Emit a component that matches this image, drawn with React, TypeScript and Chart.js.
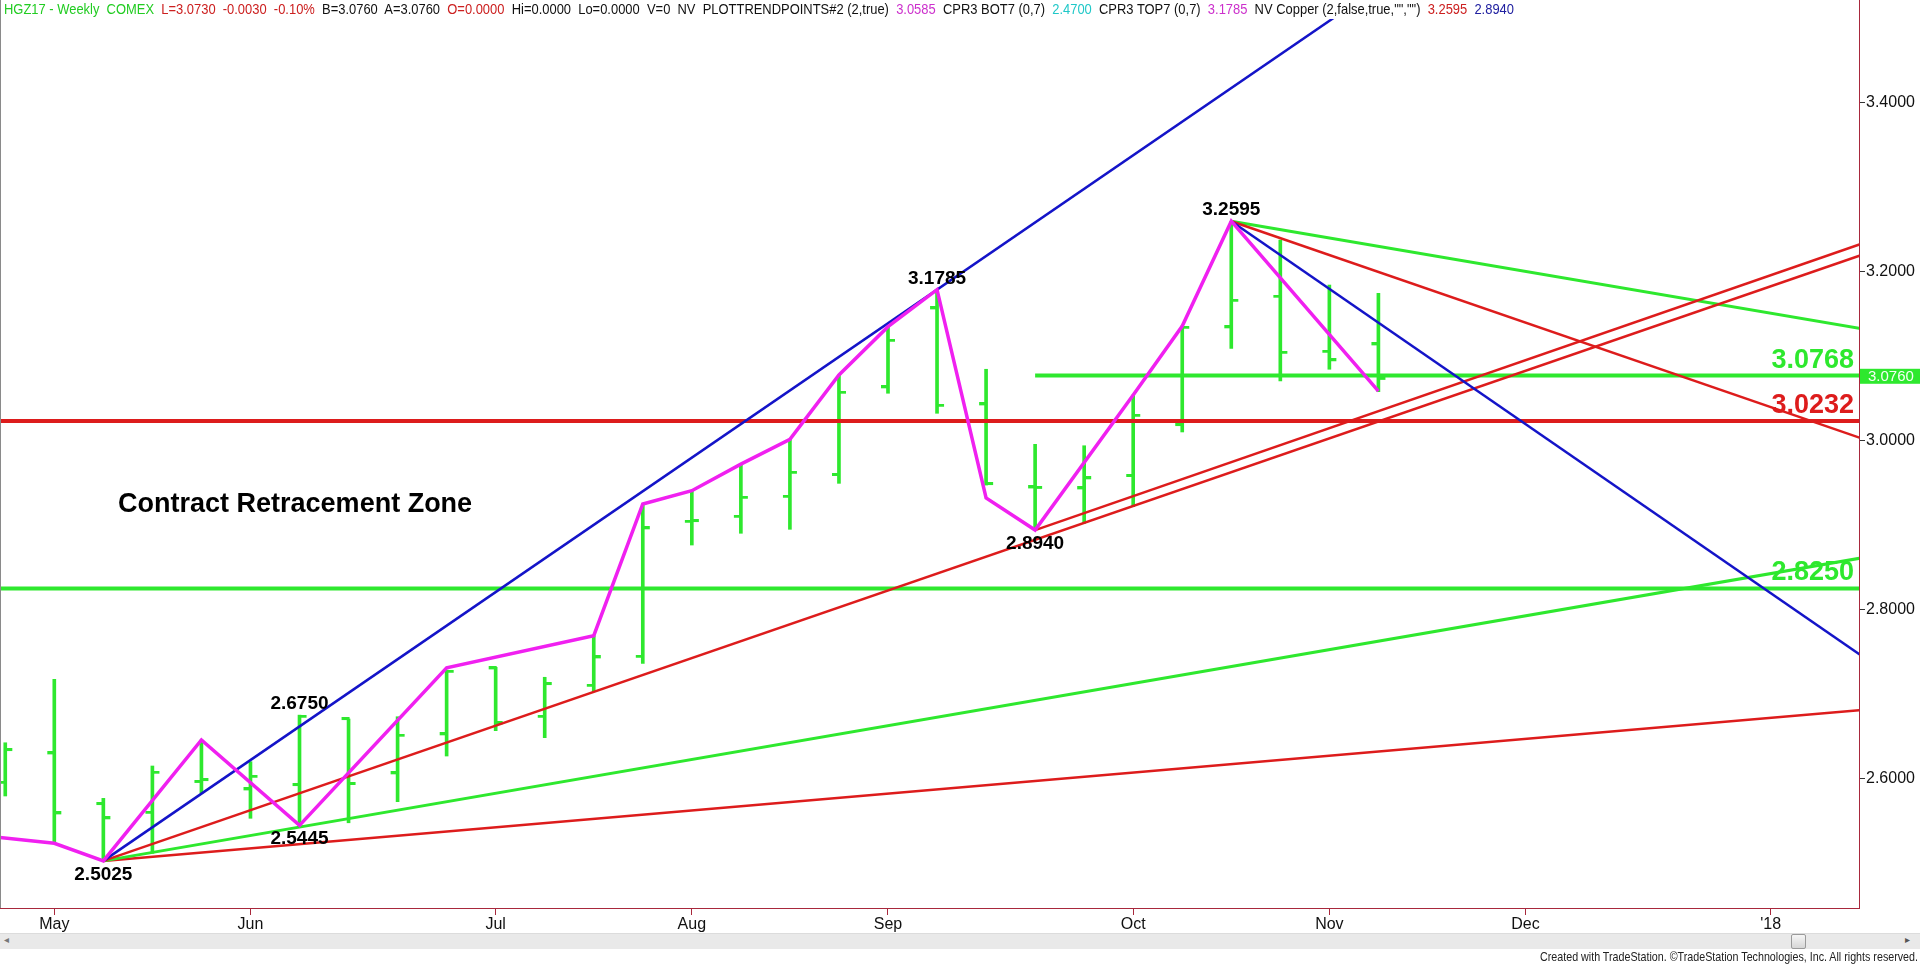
import React, { useEffect, useLayoutEffect, useRef } from 'react';
import { Chart, registerables } from 'chart.js';

Chart.register(...registerables);

const FONT = '"Liberation Sans", Arial, Helvetica, sans-serif';

// ---------- data ----------
const weeks = [-1, 0, 1, 2, 3, 4, 5, 6, 7, 8, 9, 10, 11, 12, 13, 14, 15, 16, 17, 18, 19, 20, 21, 22, 23, 24, 25, 26, 27];
const opens = [2.595, 2.6298, 2.5698, 2.5595, 2.596, 2.5872, 2.5923, 2.6704, 2.6062, 2.6523, 2.7304, 2.6731, 2.7098, 2.7441, 2.9039, 2.9098, 2.9335, 2.9592, 3.063, 3.1564, 3.0428, 2.9445, 2.9434, 2.958, 3.0183, 3.134, 3.1702, 3.1051, 3.1138];
const highs = [2.6423, 2.7174, 2.5765, 2.6148, 2.6456, 2.6199, 2.675, 2.6704, 2.6731, 2.7284, 2.7316, 2.7198, 2.769, 2.9249, 2.9406, 2.971, 3.0014, 3.0775, 3.1347, 3.1785, 3.0843, 2.9955, 2.9938, 3.0538, 3.1355, 3.2595, 3.2373, 3.184, 3.1742];
const lows = [2.5793, 2.5233, 2.5025, 2.5115, 2.5825, 2.5529, 2.5445, 2.5476, 2.5726, 2.6266, 2.6566, 2.6483, 2.7027, 2.7363, 2.8763, 2.8902, 2.8949, 2.9493, 3.0559, 3.0322, 2.9473, 2.894, 2.902, 2.9217, 3.0101, 3.1091, 3.0704, 3.0843, 3.0578];
const closes = [2.6337, 2.5588, 2.5529, 2.6069, 2.5982, 2.6021, 2.6731, 2.5935, 2.6507, 2.7264, 2.6653, 2.7118, 2.7434, 2.8961, 2.9047, 2.9323, 2.9619, 3.0566, 3.1181, 3.0412, 2.9485, 2.944, 2.9553, 3.0293, 3.1335, 3.1654, 3.1039, 3.095, 3.073];

const pivotWeeks = [-2, 0, 1, 3, 5, 8, 11, 12, 13, 14, 15, 16, 17, 18, 19, 20, 22, 23, 24, 27];
const pivotPrices = [2.5355, 2.5233, 2.5025, 2.6456, 2.5445, 2.731, 2.769, 2.9249, 2.9406, 2.972, 3.0014, 3.0775, 3.1347, 3.1785, 2.932, 2.894, 3.0538, 3.1355, 3.2595, 3.0585];

const monthTickWeeks = [0, 4, 9, 13, 17, 22, 26, 30, 35];
const monthLabels = ['May', 'Jun', 'Jul', 'Aug', 'Sep', 'Oct', 'Nov', 'Dec', "'18"];
const priceTicks = [2.6, 2.8, 3.0, 3.2, 3.4];

// trend lines: [week, price] start and end
const blueUpLine = [[1, 2.5025], [27, 3.5364]];
const blueDownLine = [[24, 3.2595], [37.5, 2.7192]];
const redUpLine = [[1, 2.5025], [37.5, 3.2325]];
const redUpLineB = [[20, 2.894], [37.5, 3.2458]];
const redDownLine = [[24, 3.2595], [37.5, 2.9895]];
const greenDownLine = [[24, 3.2595], [37.5, 3.126]];
const greenUpLine = [[1, 2.5025], [37.5, 2.8675]];
const redLowLine = [[1, 2.5025], [37.5, 2.6843]];
const redLevelLine = [[-1.5, 3.0232], [37.5, 3.0232]];
const greenLevelLow = [[-1.5, 2.825], [37.5, 2.825]];
const greenLevelHigh = [[20, 3.0768], [37.5, 3.0768]];

const pivotLabelWeeks = [1, 5, 5, 18, 20, 24];
const pivotLabelPrices = [2.5025, 2.5445, 2.675, 3.1785, 2.894, 3.2595];
const pivotLabelAbove = [false, false, true, true, false, true];

const levelLabelPrices = [3.0768, 3.0232, 2.825];
const levelLabelColors = ['#2ee82e', '#dd1c1c', '#2ee82e'];

const lastPrice = 3.076;

const headerTexts = ['HGZ17 - Weekly  COMEX', '  L=3.0730  -0.0030  -0.10%', '  B=3.0760  A=3.0760', '  O=0.0000', '  Hi=0.0000  Lo=0.0000  V=0  NV  PLOTTRENDPOINTS#2 (2,true)', '  3.0585', '  CPR3 BOT7 (0,7)', '  2.4700', '  CPR3 TOP7 (0,7)', '  3.1785', '  NV Copper (2,false,true,"","")', '  3.2595', '  2.8940'];
const headerColors = ['#22cc22', '#cc2020', '#111', '#cc2020', '#111', '#cc30cc', '#111', '#20c8c8', '#111', '#cc30cc', '#111', '#cc2020', '#2020a0'];

// ---------- styles ----------
const GREEN = '#2ee82e';
const RED = '#dd1c1c';
const BLUE = '#1414c8';
const MAGENTA = '#f020f0';
const AXIS = '#a8283c';

function tickImage(side: 'left' | 'right', color: string) {
  const c = document.createElement('canvas');
  c.width = 16;
  c.height = 4;
  const g = c.getContext('2d')!;
  g.fillStyle = color;
  if (side === 'left') g.fillRect(1, 0, 8, 3);
  else g.fillRect(7, 0, 8, 3);
  return c;
}

function lineDs(pts: number[][], color: string, width: number) {
  return {
    type: 'line' as const,
    data: pts.map((p) => ({ x: p[0], y: p[1] })),
    borderColor: color,
    borderWidth: width,
    pointRadius: 0,
    tension: 0,
    fill: false,
  };
}

const overlayPlugin = {
  id: 'overlay',
  afterDraw(chart: any) {
    const { ctx, chartArea, scales } = chart;
    const xs = scales.x;
    const ys = scales.y;
    ctx.save();
    ctx.strokeStyle = AXIS;
    ctx.lineWidth = 1;
    ctx.beginPath();
    ctx.moveTo(Math.round(chartArea.right) + 0.5, 0);
    ctx.lineTo(Math.round(chartArea.right) + 0.5, chartArea.bottom);
    ctx.stroke();
    ctx.strokeStyle = '#8a8a8a';
    ctx.beginPath();
    ctx.moveTo(0.5, 0);
    ctx.lineTo(0.5, chartArea.bottom);
    ctx.stroke();

    ctx.fillStyle = '#000';
    ctx.font = `bold 19px ${FONT}`;
    ctx.textAlign = 'center';
    ctx.textBaseline = 'alphabetic';
    pivotLabelWeeks.forEach((w, i) => {
      const px = xs.getPixelForValue(w);
      const py = ys.getPixelForValue(pivotLabelPrices[i]);
      const txt = pivotLabelPrices[i].toFixed(4);
      ctx.fillText(txt, px, pivotLabelAbove[i] ? py - 6 : py + 19);
    });

    ctx.font = `bold 27px ${FONT}`;
    ctx.textAlign = 'left';
    ctx.fillText('Contract Retracement Zone', xs.getPixelForValue(1.3), ys.getPixelForValue(2.9154));

    ctx.textAlign = 'right';
    levelLabelPrices.forEach((p, i) => {
      ctx.fillStyle = levelLabelColors[i];
      ctx.fillText(p.toFixed(4), chartArea.right - 5, ys.getPixelForValue(p) - 8);
    });

    const ly = ys.getPixelForValue(lastPrice);
    ctx.fillStyle = GREEN;
    ctx.fillRect(chartArea.right + 1, ly - 7.5, chart.width - chartArea.right - 1, 15);
    ctx.fillStyle = '#f4fff4';
    ctx.font = `15px ${FONT}`;
    ctx.textAlign = 'left';
    ctx.textBaseline = 'middle';
    ctx.fillText(lastPrice.toFixed(4), chartArea.right + 9, ly + 1);
    ctx.restore();
  },
};

function FitText(props: { width: number; style: React.CSSProperties; children: React.ReactNode }) {
  const ref = useRef<HTMLDivElement>(null);
  useLayoutEffect(() => {
    const el = ref.current;
    if (!el) return;
    el.style.transform = 'none';
    const w = el.getBoundingClientRect().width;
    if (w > 0) el.style.transform = `scaleX(${props.width / w})`;
  });
  return (
    <div ref={ref} style={{ position: 'absolute', whiteSpace: 'pre', display: 'inline-block', ...props.style }}>
      {props.children}
    </div>
  );
}

export default function App() {
  const canvasRef = useRef<HTMLCanvasElement>(null);

  useEffect(() => {
    const canvas = canvasRef.current;
    if (!canvas) return;
    const leftTick = tickImage('left', GREEN);
    const rightTick = tickImage('right', GREEN);

    const chart = new Chart(canvas, {
      type: 'bar',
      data: {
        datasets: [
          lineDs(pivotWeeks.map((w, i) => [w, pivotPrices[i]]), MAGENTA, 3.5),
          lineDs(blueUpLine, BLUE, 2.5),
          lineDs(blueDownLine, BLUE, 2.5),
          lineDs(redUpLine, RED, 2.5),
          lineDs(redUpLineB, RED, 2.5),
          lineDs(redDownLine, RED, 2.5),
          lineDs(greenDownLine, GREEN, 3),
          lineDs(greenUpLine, GREEN, 3),
          lineDs(redLowLine, RED, 2.5),
          lineDs(redLevelLine, RED, 4),
          lineDs(greenLevelLow, GREEN, 4),
          lineDs(greenLevelHigh, GREEN, 4),
          {
            type: 'line' as const,
            data: weeks.map((w, i) => ({ x: w, y: opens[i] })),
            showLine: false,
            pointStyle: leftTick as any,
            pointRadius: 4,
          },
          {
            type: 'line' as const,
            data: weeks.map((w, i) => ({ x: w, y: closes[i] })),
            showLine: false,
            pointStyle: rightTick as any,
            pointRadius: 4,
          },
          {
            type: 'bar' as const,
            data: weeks.map((w, i) => ({ x: w, y: [lows[i], highs[i]] })) as any,
            backgroundColor: GREEN,
            borderWidth: 0,
            barThickness: 3,
          },
        ] as any,
      },
      options: {
        responsive: false,
        animation: false,
        events: [],
        layout: { autoPadding: false, padding: { top: 19, left: 0, right: 0, bottom: 0 } },
        plugins: { legend: { display: false }, tooltip: { enabled: false } },
        scales: {
          x: {
            type: 'linear',
            position: 'bottom',
            min: -1.1073,
            max: 36.8,
            offset: false,
            afterFit: (s: any) => {
              s.height = 56;
              s.paddingLeft = 0;
              s.paddingRight = 0;
            },
            afterBuildTicks: (s: any) => {
              s.ticks = monthTickWeeks.map((v) => ({ value: v }));
            },
            ticks: {
              callback: (_v: any, i: number) => monthLabels[i],
              font: { family: FONT, size: 16 },
              color: '#111',
              padding: 0,
              maxRotation: 0,
              autoSkip: false,
            },
            grid: { offset: false, drawOnChartArea: false, drawTicks: true, tickLength: 7, color: AXIS },
            border: { display: true, color: AXIS, width: 1 },
          },
          y: {
            type: 'linear',
            position: 'right',
            min: 2.44675,
            max: 3.49882,
            afterFit: (s: any) => {
              s.width = 61;
              s.paddingTop = 0;
              s.paddingBottom = 0;
            },
            afterBuildTicks: (s: any) => {
              s.ticks = priceTicks.map((v) => ({ value: v }));
            },
            ticks: {
              callback: (v: any) => Number(v).toFixed(4),
              font: { family: FONT, size: 16 },
              color: '#111',
              padding: 1,
            },
            grid: { offset: false, drawOnChartArea: false, drawTicks: true, tickLength: 6, color: '#333' },
            border: { display: true, color: AXIS, width: 1 },
          },
        },
      } as any,
      plugins: [overlayPlugin],
    });
    return () => chart.destroy();
  }, []);

  return (
    <div style={{ position: 'fixed', left: 0, top: 0, width: 1920, height: 964, background: '#fff', overflow: 'hidden' }}>
      <canvas ref={canvasRef} width={1920} height={964} style={{ position: 'absolute', left: 0, top: 0, width: 1920, height: 964 }} />
      <FitText width={1510} style={{ left: 4, top: 1, font: `15px ${FONT}`, lineHeight: '16px', transformOrigin: 'left top' }}>
        {headerTexts.map((t, i) => (
          <span key={i} style={{ color: headerColors[i] }}>{t}</span>
        ))}
      </FitText>
      <div style={{ position: 'absolute', left: 0, top: 933, width: 1920, height: 15, background: '#e9e9e9', borderTop: '1px solid #dcdcdc' }}>
        <div style={{ position: 'absolute', left: 4, top: 0, font: `10px ${FONT}`, color: '#777' }}>◂</div>
        <div style={{ position: 'absolute', left: 1905, top: 0, font: `10px ${FONT}`, color: '#555' }}>▸</div>
        <div style={{ position: 'absolute', left: 1791, top: 0, width: 13, height: 13, background: 'linear-gradient(#f6f6f6,#d6d6d6)', border: '1px solid #9a9a9a', borderRadius: 2 }} />
      </div>
      <FitText width={378} style={{ left: 1540, top: 950, font: `13px ${FONT}`, lineHeight: '14px', color: '#222', transformOrigin: 'left top' }}>
        {'Created with TradeStation. ©TradeStation Technologies, Inc. All rights reserved.'}
      </FitText>
    </div>
  );
}
